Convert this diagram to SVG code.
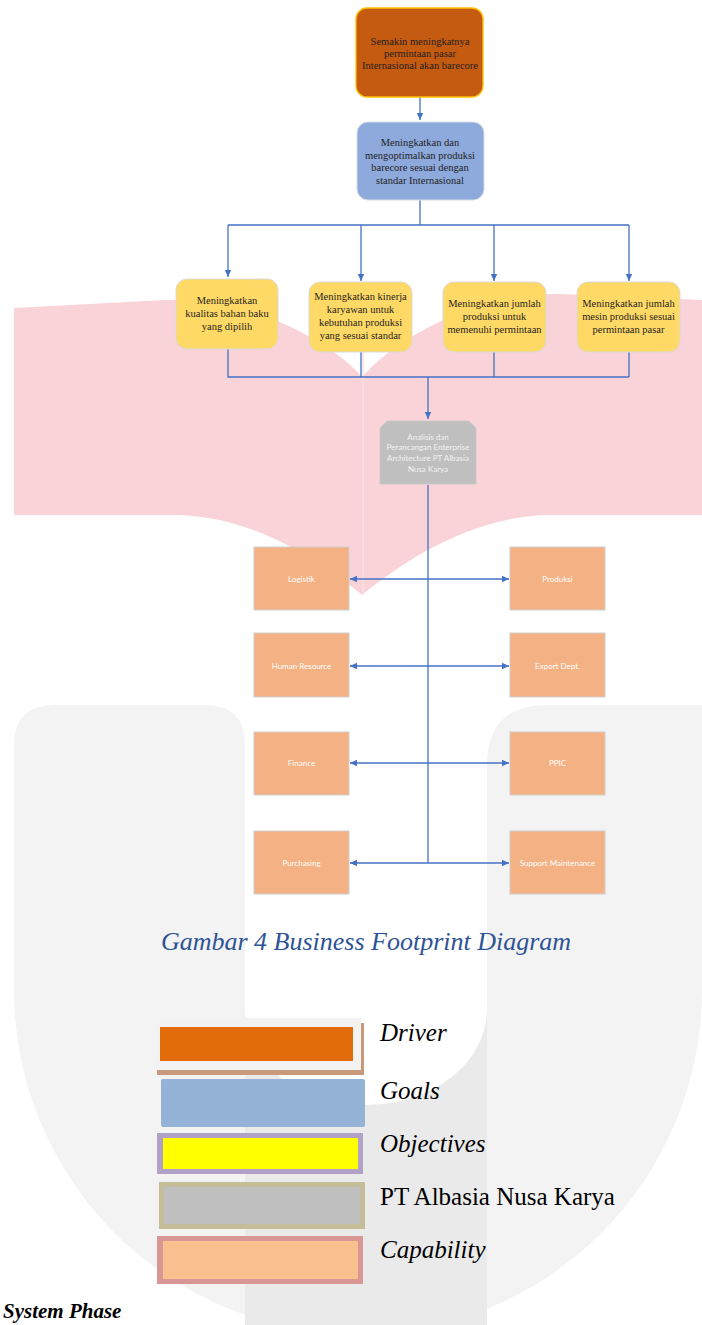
<svg xmlns="http://www.w3.org/2000/svg" width="702" height="1325" viewBox="0 0 702 1325">
<defs>
<style>
.serif{font-family:"Liberation Serif","Times New Roman",serif;}
.t{font-family:"Liberation Serif","Times New Roman",serif;font-size:10.5px;fill:#1f1f1f;text-anchor:middle;}
.cap{fill:#F4B183;stroke:#D0CECE;stroke-width:1;}
.ct{font-family:Lato,"Open Sans",sans-serif;font-size:8px;fill:#FFFFFF;text-anchor:middle;}
.obj{fill:#FFD966;stroke:#DADADA;stroke-width:1;}
.c{fill:none;stroke:#4472C4;stroke-width:1.3;}
.lg{font-family:"Liberation Serif","Times New Roman",serif;font-size:25px;fill:#000;}
</style>
<marker id="ah" markerUnits="userSpaceOnUse" markerWidth="8" markerHeight="8" viewBox="0 0 8 8" refX="7" refY="4" orient="auto">
<path d="M0,0.8 L7,4 L0,7.2 Z" fill="#4472C4"/>
</marker>
<marker id="as" markerUnits="userSpaceOnUse" markerWidth="8" markerHeight="8" viewBox="0 0 8 8" refX="1" refY="4" orient="auto">
<path d="M8,0.8 L1,4 L8,7.2 Z" fill="#4472C4"/>
</marker>
</defs>
<rect width="702" height="1325" fill="#FFFFFF"/>
<g id="watermark">
<path d="M362,377 C330,340 255,300 165,300 L14,308 L14,515 L180,515 C255,518 320,560 362,595 C405,560 470,518 545,515 L702,515 L702,300 L560,294 C470,294 395,340 362,377 Z" fill="#F9D3D7"/>
<line x1="363" y1="300" x2="363" y2="594" stroke="#F6E0E2" stroke-width="1.5"/>
<path d="M14,745 Q14,705 55,705 L205,705 Q245,705 245,745 L245,1010 A121,95 0 0 0 487,1010 L487,765 Q487,705 547,705 L702,705 L702,990 A344,344 0 0 1 14,990 Z" fill="#F3F3F3"/>
<path d="M245,1010 A121,95 0 0 0 487,1010 L487,1325 L245,1325 Z" fill="#EAEAEA"/>
</g>
<g id="connectors">
<path class="c" d="M420,97 V120" marker-end="url(#ah)"/>
<path class="c" d="M420,200 V225 M228,225 H629"/>
<path class="c" d="M228,225 V277" marker-end="url(#ah)"/>
<path class="c" d="M361,225 V281" marker-end="url(#ah)"/>
<path class="c" d="M494,225 V281" marker-end="url(#ah)"/>
<path class="c" d="M629,225 V281" marker-end="url(#ah)"/>
<path class="c" d="M228,349 V377 H629 M361,352 V377 M494,352 V377 M629,352 V377"/>
<path class="c" d="M428,377 V419" marker-end="url(#ah)"/>
<path class="c" d="M428,485 V863"/>
<path class="c" d="M350,579 H509" marker-start="url(#as)" marker-end="url(#ah)"/>
<path class="c" d="M350,666 H509" marker-start="url(#as)" marker-end="url(#ah)"/>
<path class="c" d="M350,763 H509" marker-start="url(#as)" marker-end="url(#ah)"/>
<path class="c" d="M350,863 H509" marker-start="url(#as)" marker-end="url(#ah)"/>
</g>
<g id="driver">
<rect x="356" y="8" width="127" height="89" rx="11" fill="#C55A11" stroke="#FFC000" stroke-width="1.3"/>
<text class="t" x="420" y="45">Semakin meningkatnya</text>
<text class="t" x="420" y="57">permintaan pasar</text>
<text class="t" x="420" y="69">Internasional akan barecore</text>
</g>
<g id="goals">
<rect x="357" y="122" width="127" height="78" rx="11" fill="#8EA9DB" stroke="#D6DCE5" stroke-width="1"/>
<text class="t" x="420" y="146">Meningkatkan dan</text>
<text class="t" x="420" y="158.5">mengoptimalkan produksi</text>
<text class="t" x="420" y="171">barecore sesuai dengan</text>
<text class="t" x="420" y="183.5">standar Internasional</text>
</g>
<g id="obj1">
<rect class="obj" x="176" y="279" width="102" height="70" rx="11"/>
<text class="t" x="227" y="304">Meningkatkan</text>
<text class="t" x="227" y="316.5">kualitas bahan baku</text>
<text class="t" x="227" y="330">yang dipilih</text>
</g>
<g id="obj2">
<rect class="obj" x="309" y="282" width="103" height="70" rx="11"/>
<text class="t" x="360.5" y="300">Meningkatkan kinerja</text>
<text class="t" x="360.5" y="313">karyawan untuk</text>
<text class="t" x="360.5" y="326">kebutuhan produksi</text>
<text class="t" x="360.5" y="339">yang sesuai standar</text>
</g>
<g id="obj3">
<rect class="obj" x="443" y="282" width="103" height="70" rx="11"/>
<text class="t" x="494.5" y="307">Meningkatkan jumlah</text>
<text class="t" x="494.5" y="320">produksi untuk</text>
<text class="t" x="494.5" y="333">memenuhi permintaan</text>
</g>
<g id="obj4">
<rect class="obj" x="577" y="282" width="103" height="70" rx="11"/>
<text class="t" x="628.5" y="307">Meningkatkan jumlah</text>
<text class="t" x="628.5" y="320">mesin produksi sesuai</text>
<text class="t" x="628.5" y="333">permintaan pasar</text>
</g>
<g id="enterprise">
<polygon points="380,428 387,421 469,421 476,428 476,484 380,484" fill="#BFBFBF" stroke="#C9C9C9" stroke-width="0.8"/>
<g font-family="Lato,'Open Sans',sans-serif" font-size="8" fill="#F2F2F2" text-anchor="middle">
<text x="428" y="439.5">Analisis dan</text>
<text x="428" y="450">Perancangan Enterprise</text>
<text x="428" y="461">Architecture PT Albasia</text>
<text x="428" y="471.5">Nusa Karya</text>
</g>
</g>
<g id="logistik"><rect class="cap" x="254" y="547" width="95" height="63"/><text class="ct" x="301.5" y="582">Logistik</text></g>
<g id="produksi"><rect class="cap" x="510" y="547" width="95" height="63"/><text class="ct" x="557.5" y="582">Produksi</text></g>
<g id="hr"><rect class="cap" x="254" y="633" width="95" height="64"/><text class="ct" x="301.5" y="669">Human Resource</text></g>
<g id="export"><rect class="cap" x="510" y="633" width="95" height="64"/><text class="ct" x="557.5" y="669">Export Dept.</text></g>
<g id="finance"><rect class="cap" x="254" y="732" width="95" height="63"/><text class="ct" x="301.5" y="766">Finance</text></g>
<g id="ppic"><rect class="cap" x="510" y="732" width="95" height="63"/><text class="ct" x="557.5" y="766">PPIC</text></g>
<g id="purchasing"><rect class="cap" x="254" y="831" width="95" height="63"/><text class="ct" x="301.5" y="866">Purchasing</text></g>
<g id="support"><rect class="cap" x="510" y="831" width="95" height="63"/><text class="ct" x="557.5" y="866">Support Maintenance</text></g>
<text class="serif" x="366" y="950" font-size="26" font-style="italic" fill="#2E5395" text-anchor="middle">Gambar 4 Business Footprint Diagram</text>
<g id="legend">
<rect x="157" y="1023" width="207" height="52" fill="#C8997A"/>
<rect x="154" y="1018" width="207" height="52" fill="#F2F2F2"/>
<rect x="160" y="1027" width="193" height="34" fill="#E36C0A"/>
<rect x="161" y="1079" width="204" height="48" rx="2" fill="#95B3D7"/>
<rect x="157" y="1133" width="206" height="41" fill="#B2A1C7"/>
<rect x="163" y="1138" width="195" height="31" fill="#FFFF00"/>
<rect x="159" y="1182" width="206" height="47" fill="#C4BD97"/>
<rect x="164" y="1187" width="196" height="37" fill="#BFBFBF"/>
<rect x="157" y="1236" width="206" height="48" fill="#DA9694"/>
<rect x="163" y="1241" width="195" height="38" fill="#FAC090"/>
<text class="lg" x="380" y="1041" font-style="italic">Driver</text>
<text class="lg" x="380" y="1099" font-style="italic">Goals</text>
<text class="lg" x="380" y="1152" font-style="italic">Objectives</text>
<text class="lg" x="380" y="1205">PT Albasia Nusa Karya</text>
<text class="lg" x="380" y="1258" font-style="italic">Capability</text>
</g>
<text class="serif" x="3" y="1318" font-size="21" font-weight="bold" font-style="italic" fill="#000">System Phase</text>
</svg>
